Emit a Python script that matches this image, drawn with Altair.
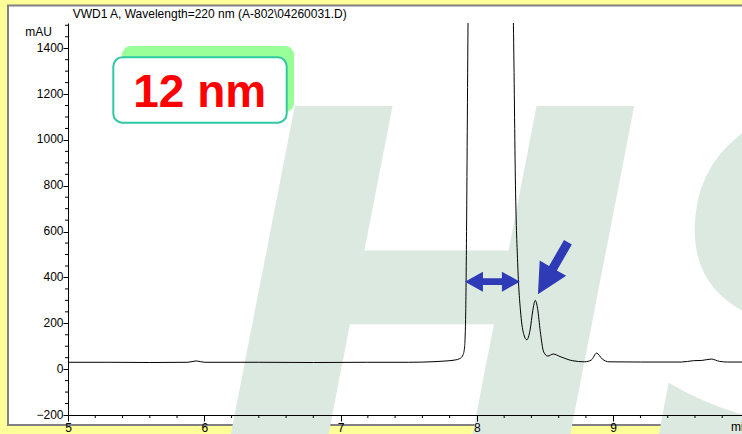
import altair as alt
import pandas as pd

# VWD1 A trace: retention time (min) and absorbance (mAU)
time_min = [
    5.00, 5.30, 5.60, 5.88, 5.94, 6.00, 6.40, 6.80, 7.20, 7.50, 7.70, 7.78,
    7.84, 7.875, 7.900, 7.910, 7.918, 7.924, 7.930, 7.936, 7.950, 8.000,
    8.100, 8.200, 8.250, 8.268, 8.283, 8.300, 8.322, 8.345, 8.366, 8.390,
    8.410, 8.428, 8.445, 8.465, 8.490, 8.520, 8.560, 8.610, 8.700, 8.790,
    8.840, 8.878, 8.920, 8.970, 9.200, 9.500, 9.590, 9.650, 9.720, 9.780,
    9.840, 9.945,
]
signal_mau = [
    30, 30, 29, 30, 36, 30, 30, 29, 30, 30, 33, 36,
    40, 46, 65, 100, 250, 600, 1100, 1600, 2100, 2600,
    2800, 2500, 1900, 1500, 800, 450, 240, 150, 128, 170,
    255, 300, 265, 165, 75, 57, 66, 55, 37, 32,
    40, 70, 44, 32, 31, 31, 37, 38, 44, 34,
    31, 31,
]

# axis ticks
x_major = [5, 6, 7, 8, 9]
x_minor = [5.2, 5.4, 5.6, 5.8, 6.2, 6.4, 6.6, 6.8, 7.2, 7.4, 7.6, 7.8,
           8.2, 8.4, 8.6, 8.8, 9.2, 9.4, 9.6, 9.8]
y_major = [-200, 0, 200, 400, 600, 800, 1000, 1200, 1400]
y_minor = [-150, -100, -50, 50, 100, 150, 250, 300, 350, 450, 500, 550,
           650, 700, 750, 850, 900, 950, 1050, 1100, 1150, 1250, 1300,
           1350, 1450, 1500]

# texts
signal_title = "VWD1 A, Wavelength=220 nm (A-802\\04260031.D)"
y_unit = "mAU"
x_unit = "min"
badge_text = "12 nm"
watermark_text = "HS"

# annotation arrows: gap between the main peak and its neighbour, and a pointer
gap_arrow = pd.DataFrame({"t": [8.114], "v": [381.7]})
pointer_arrow = pd.DataFrame({"t": [8.558], "v": [440.3]})

W, H = 674, 392
FONT = "Liberation Sans"
ARROW_BLUE = "#2E3AB6"

trace = pd.DataFrame({"t": time_min, "v": signal_mau})
one = pd.DataFrame({"k": [0]})

x_scale = alt.Scale(domain=[5, 9.945], nice=False, zero=False)
y_scale = alt.Scale(domain=[-200, 1510], nice=False, zero=False)

x_axis = alt.Axis(values=x_major, tickSize=6, labelPadding=1, labelFontSize=12,
                  labelFont=FONT, labelColor="black", domainColor="black",
                  tickColor="black", grid=False, title=None, labelFlush=False,
                  labelOverlap=False, zindex=1, format="d")
y_axis = alt.Axis(values=y_major, tickSize=5, labelPadding=0, labelFontSize=12,
                  labelFont=FONT, labelColor="black", domainColor="black",
                  tickColor="black", grid=False, title=None, labelFlush=False,
                  labelOverlap=False, zindex=1, labelOffset=-1, format="d")

panel = alt.Chart(one).mark_rect(fill="white", stroke="#808080", strokeWidth=2).encode(
    x=alt.value(-60), x2=alt.value(W + 10), y=alt.value(-17.5), y2=alt.value(H + 10)
)

# faint logo letters behind the plot
watermark = alt.Chart(one).mark_text(
    text=watermark_text, font="DejaVu Sans", fontSize=520, fontWeight="bold",
    fontStyle="italic", color="#DCE9E1", align="left", baseline="alphabetic"
).encode(x=alt.value(142), y=alt.value(462))

x_minor_ticks = alt.Chart(pd.DataFrame({"t": x_minor})).mark_rule(
    color="black", strokeWidth=1
).encode(x=alt.X("t:Q", scale=x_scale, axis=x_axis), y=alt.value(H), y2=alt.value(H + 3))

y_minor_ticks = alt.Chart(pd.DataFrame({"v": y_minor})).mark_rule(
    color="black", strokeWidth=1
).encode(y=alt.Y("v:Q", scale=y_scale, axis=y_axis), x=alt.value(-3), x2=alt.value(0))

curve = alt.Chart(trace).mark_line(
    color="black", strokeWidth=1, clip=True, interpolate="monotone"
).encode(
    x=alt.X("t:Q", scale=x_scale, axis=x_axis),
    y=alt.Y("v:Q", scale=y_scale, axis=y_axis),
)

badge_shadow = alt.Chart(one).mark_rect(color="#99FF99", cornerRadius=9).encode(
    x=alt.value(54), x2=alt.value(226), y=alt.value(23), y2=alt.value(89)
)
badge_box = alt.Chart(one).mark_rect(
    fill="white", stroke="#2CC9A2", strokeWidth=2, cornerRadius=9
).encode(x=alt.value(45.3), x2=alt.value(218.7), y=alt.value(34.3), y2=alt.value(99.7))
badge_label = alt.Chart(one).mark_text(
    text=badge_text, font=FONT, fontSize=46, fontWeight="bold", color="#FF0000",
    align="center", baseline="alphabetic"
).encode(x=alt.value(131.7), y=alt.value(83.7))

double_arrow_path = ("M -1 0 L -0.345 -0.364 L -0.345 -0.12 L 0.345 -0.12 L 0.345 -0.364 "
                     "L 1 0 L 0.345 0.364 L 0.345 0.12 L -0.345 0.12 L -0.345 0.364 Z")
single_arrow_path = "M -1 -0.15 L 0 -0.15 L 0 -0.51 L 1 0 L 0 0.51 L 0 0.15 L -1 0.15 Z"

gap_mark = alt.Chart(gap_arrow).mark_point(
    shape=double_arrow_path, filled=True, size=3025, color=ARROW_BLUE,
    opacity=1, strokeWidth=0
).encode(x=alt.X("t:Q", scale=x_scale, axis=x_axis), y=alt.Y("v:Q", scale=y_scale, axis=y_axis))

pointer_mark = alt.Chart(pointer_arrow).mark_point(
    shape=single_arrow_path, filled=True, size=3600, color=ARROW_BLUE,
    opacity=1, strokeWidth=0, angle=120
).encode(x=alt.X("t:Q", scale=x_scale, axis=x_axis), y=alt.Y("v:Q", scale=y_scale, axis=y_axis))

title_mark = alt.Chart(one).mark_text(
    text=signal_title, font=FONT, fontSize=12, color="black", align="left", baseline="middle"
).encode(x=alt.value(4.7), y=alt.value(-9))

y_unit_mark = alt.Chart(one).mark_text(
    text=y_unit, font=FONT, fontSize=12, color="black", align="right", baseline="middle"
).encode(x=alt.value(-16), y=alt.value(8.7))

x_unit_mark = alt.Chart(one).mark_text(
    text=x_unit, font=FONT, fontSize=12, color="black", align="left", baseline="top"
).encode(x=alt.value(663), y=alt.value(H + 7))

chart = alt.layer(
    panel, watermark, x_minor_ticks, y_minor_ticks, curve,
    badge_shadow, badge_box, badge_label, gap_mark, pointer_mark,
    title_mark, y_unit_mark, x_unit_mark,
).properties(
    width=W, height=H,
    autosize=alt.AutoSizeParams(type="none"),
    padding={"left": 68, "top": 23, "right": 0, "bottom": 19},
    background="#FFFF99",
).configure_view(strokeWidth=0)

chart.save("out.html", embed_options={"renderer": "svg", "actions": False})
